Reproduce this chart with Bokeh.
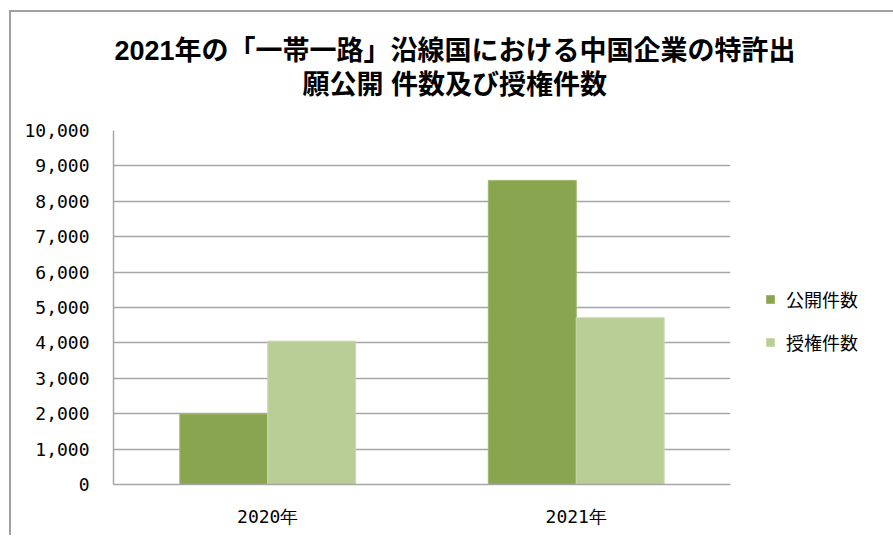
from bokeh.plotting import figure
from bokeh.models import FactorRange, Range1d, Title, Legend, LegendItem, NumeralTickFormatter, ColumnDataSource
from bokeh.transform import dodge
from bokeh.embed import file_html
from bokeh.resources import INLINE

years = ["2020年", "2021年"]
series_names = ["公開件数", "授権件数"]
publication = [1990, 8590]
granted = [4050, 4710]
title_line1 = "2021年の「一帯一路」沿線国における中国企業の特許出"
title_line2 = "願公開 件数及び授権件数"
y_ticks = [0, 1000, 2000, 3000, 4000, 5000, 6000, 7000, 8000, 9000, 10000]
colors = ["#8aa54f", "#b9ce96"]

TITLE_FONT = "'Liberation Sans', 'Noto Sans CJK JP'"

src = ColumnDataSource(dict(year=years, pub=publication, grant=granted))

p = figure(frame_width=617, frame_height=354, output_backend="svg", toolbar_location=None,
           x_range=FactorRange(*years, range_padding=0), y_range=Range1d(0, 10000),
           min_border_left=102, min_border_right=161, min_border_top=118, min_border_bottom=51)
p.styles = {"border-left": "2px solid #a0a0a0", "border-top": "2px solid #a0a0a0",
            "margin-left": "9px", "margin-top": "10px"}

p.title.text = title_line1
p.title.text_font = TITLE_FONT
p.title.text_font_size = "27px"
p.title.text_font_style = "bold"
p.title.text_color = "#000000"
p.title.align = "left"
p.title.offset = 1
p.title.standoff = 3
spacer = Title(text=" ", text_font_size="1px", standoff=28)
p.add_layout(spacer, "above")
t2 = Title(text=title_line2, text_font=TITLE_FONT, text_font_size="27px",
           text_font_style="bold", text_color="#000000", align="left", offset=189, standoff=0)
p.add_layout(t2, "above")

w = 0.285
r1 = p.vbar(x=dodge("year", -w / 2, range=p.x_range), top="pub", width=w, source=src,
            fill_color=colors[0], line_color="#9fb86c", line_width=1)
r2 = p.vbar(x=dodge("year", w / 2, range=p.x_range), top="grant", width=w, source=src,
            fill_color=colors[1], line_color="#c8dbab", line_width=1)

p.outline_line_color = None
p.xgrid.grid_line_color = None
p.ygrid.grid_line_color = "#a6a6a6"
p.ygrid.grid_line_width = 1.5
p.yaxis.ticker = y_ticks
p.yaxis.formatter = NumeralTickFormatter(format="0,0")
for ax in (p.xaxis, p.yaxis):
    ax.axis_line_color = "#a6a6a6"
    ax.axis_line_width = 1.5
    ax.major_tick_line_color = None
    ax.minor_tick_line_color = None
    ax.major_label_text_font = "DejaVu Sans Mono"
    ax.major_label_text_font_size = "18px"
    ax.major_label_text_color = "#000000"
p.yaxis.major_label_standoff = 18
p.xaxis.major_label_standoff = 15

legend = Legend(items=[LegendItem(label=series_names[0], renderers=[r1]),
                       LegendItem(label=series_names[1], renderers=[r2])],
                location=(35, 129), orientation="vertical",
                label_text_font="Noto Sans CJK JP", label_text_font_size="18px",
                label_text_color="#000000",
                glyph_width=10, glyph_height=10, label_standoff=11, spacing=17,
                padding=0, margin=0, border_line_color=None, background_fill_alpha=0)
p.add_layout(legend, "right")

open("out.html", "w").write(file_html(p, INLINE))
